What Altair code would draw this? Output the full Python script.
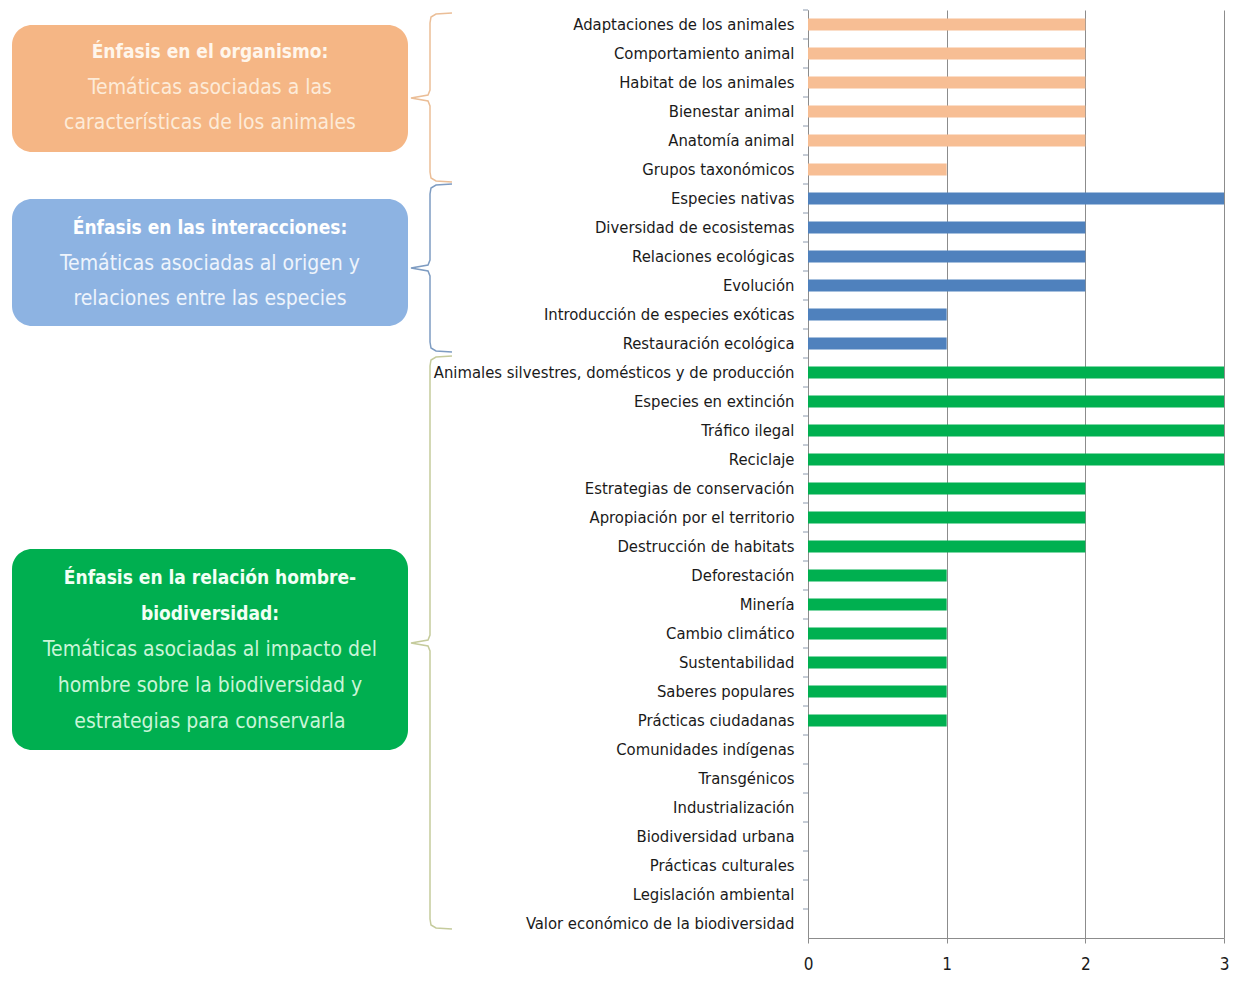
import altair as alt
import pandas as pd

# ---------------- data ----------------
categories = [
    "Adaptaciones de los animales", "Comportamiento animal", "Habitat de los animales",
    "Bienestar animal", "Anatomía animal", "Grupos taxonómicos",
    "Especies nativas", "Diversidad de ecosistemas", "Relaciones ecológicas", "Evolución",
    "Introducción de especies exóticas", "Restauración ecológica",
    "Animales silvestres, domésticos y de producción", "Especies en extinción", "Tráfico ilegal",
    "Reciclaje", "Estrategias de conservación", "Apropiación por el territorio",
    "Destrucción de habitats", "Deforestación", "Minería", "Cambio climático", "Sustentabilidad",
    "Saberes populares", "Prácticas ciudadanas", "Comunidades indígenas", "Transgénicos",
    "Industrialización", "Biodiversidad urbana", "Prácticas culturales", "Legislación ambiental",
    "Valor económico de la biodiversidad",
]
values = [2, 2, 2, 2, 2, 1,
          3, 2, 2, 2, 1, 1,
          3, 3, 3, 3, 2, 2, 2, 1, 1, 1, 1, 1, 1, 0, 0, 0, 0, 0, 0, 0]
groups = ["organismo"] * 6 + ["interacciones"] * 6 + ["hombre"] * 20
x_ticks = [0, 1, 2, 3]

group_names = ["organismo", "interacciones", "hombre"]
bar_colors = ["#F7BE94", "#4F81BD", "#00B050"]
box_colors = ["#F5B685", "#8DB3E2", "#00AF50"]
brace_colors = ["#EBBE97", "#7E9CC2", "#C5CB9C"]

box_titles = [["Énfasis en el organismo:"],
              ["Énfasis en las interacciones:"],
              ["Énfasis en la relación hombre-", "biodiversidad:"]]
box_texts = [["Temáticas asociadas a las", "características de los animales"],
             ["Temáticas asociadas al origen y", "relaciones entre las especies"],
             ["Temáticas asociadas al impacto del", "hombre  sobre la biodiversidad y",
              "estrategias para conservarla"]]
title_colors = ["#FFF6EC", "#FFFFFF", "#F2FFF5"]
text_colors = ["#FDEBD8", "#EEF4FC", "#C9F5D8"]

# ---------------- layout (page pixels) ----------------
OX, OY = 808, 10          # plot origin on the page
W, H = 416, 928
FONT = "DejaVu Sans Condensed, Liberation Sans Narrow, Roboto"

box_rects = [(12, 408, 25, 152), (12, 408, 199, 326), (12, 408, 549, 750)]
box_line_y = [[52, 88, 123], [228, 264, 299], [578, 614, 650, 686, 722]]
brace_spans = [(13, 98, 182), (184, 268, 352), (356, 643, 929)]
BX, BTIP, BEND = 430, 411, 452

df = pd.DataFrame({"cat": categories, "val": values, "grp": groups})

# boxes
rect_rows = []
for g, (x1, x2, y1, y2), c in zip(group_names, box_rects, box_colors):
    rect_rows.append({"x": x1 - OX, "x2": x2 - OX, "y": y1 - OY, "y2": y2 - OY, "c": c})
rect_df = pd.DataFrame(rect_rows)

# text lines
title_rows, text_rows = [], []
for i in range(3):
    ys = box_line_y[i]
    k = 0
    for t in box_titles[i]:
        title_rows.append({"x": 210 - OX, "y": ys[k] - OY, "t": t, "c": title_colors[i]})
        k += 1
    for t in box_texts[i]:
        text_rows.append({"x": 210 - OX, "y": ys[k] - OY, "t": t, "c": text_colors[i]})
        k += 1
title_df = pd.DataFrame(title_rows)
text_df = pd.DataFrame(text_rows)

# braces
brace_rows = []
for i, (top, tip, bot) in enumerate(brace_spans):
    pts = [(BEND, top), (BX + 6, top + 1), (BX + 1, top + 4), (BX, top + 10),
           (BX, tip - 8), (BX - 2, tip - 3), (BTIP, tip), (BX - 2, tip + 3), (BX, tip + 8),
           (BX, bot - 10), (BX + 1, bot - 4), (BX + 6, bot - 1), (BEND, bot)]
    for j, (px, py) in enumerate(pts):
        brace_rows.append({"b": i, "o": j, "x": px - OX, "y": py - OY, "c": brace_colors[i]})
brace_df = pd.DataFrame(brace_rows)

# ---------------- main chart ----------------
yscale = alt.Scale(domain=categories, paddingInner=0, paddingOuter=0)
xscale = alt.Scale(domain=[0, 3], nice=False, zero=True)

bars = alt.Chart(df).mark_bar(size=12).encode(
    y=alt.Y("cat:N", scale=yscale, sort=categories, title=None,
            axis=alt.Axis(ticks=False, labelPadding=14, labelFont=FONT, labelFontSize=16.5,
                          labelColor="#1A1A1A", domainColor="#8C8C8C", labelLimit=500)),
    x=alt.X("val:Q", scale=xscale, title=None,
            axis=alt.Axis(values=x_ticks, format="d", grid=True, gridColor="#8C8C8C",
                          domain=True, domainColor="#8C8C8C", domainWidth=1,
                          tickColor="#8C8C8C", tickSize=5, labelFlush=False,
                          labelPadding=13, labelFont=FONT, labelFontSize=17,
                          labelColor="#1A1A1A")),
    color=alt.Color("grp:N", scale=alt.Scale(domain=group_names, range=bar_colors), legend=None),
)

ticks = alt.Chart(df).mark_rule(color="#8C9AAE").encode(
    y=alt.Y("cat:N", scale=yscale, sort=categories, bandPosition=0),
    x=alt.value(-5), x2=alt.value(0),
)

main = alt.layer(bars, ticks)

# ---------------- decorations ----------------
boxes = alt.Chart(rect_df).mark_rect(cornerRadius=20).encode(
    x=alt.X("x:Q", scale=None, axis=None), x2="x2:Q",
    y=alt.Y("y:Q", scale=None, axis=None), y2="y2:Q",
    fill=alt.Fill("c:N", scale=None),
)
titles = alt.Chart(title_df).mark_text(font=FONT, fontSize=19, fontWeight="bold",
                                       align="center", baseline="middle").encode(
    x=alt.X("x:Q", scale=None, axis=None), y=alt.Y("y:Q", scale=None, axis=None),
    text="t:N", color=alt.Color("c:N", scale=None),
)
texts = alt.Chart(text_df).mark_text(font=FONT, fontSize=21,
                                     align="center", baseline="middle").encode(
    x=alt.X("x:Q", scale=None, axis=None), y=alt.Y("y:Q", scale=None, axis=None),
    text="t:N", color=alt.Color("c:N", scale=None),
)
braces = alt.Chart(brace_df).mark_line(strokeWidth=1.5, interpolate="linear").encode(
    x=alt.X("x:Q", scale=None, axis=None), y=alt.Y("y:Q", scale=None, axis=None),
    detail="b:N", order="o:Q", color=alt.Color("c:N", scale=None),
)
deco = alt.layer(boxes, braces, titles, texts)

chart = alt.layer(deco, main).resolve_scale(
    x="independent", y="independent", color="independent"
).properties(
    width=W, height=H,
    autosize=alt.AutoSizeParams(type="none"),
    padding={"left": OX - 8, "top": OY - 8, "right": 6, "bottom": 35},
).configure_view(stroke=None)

chart.save("out.html", embed_options={"renderer": "svg", "actions": False})
